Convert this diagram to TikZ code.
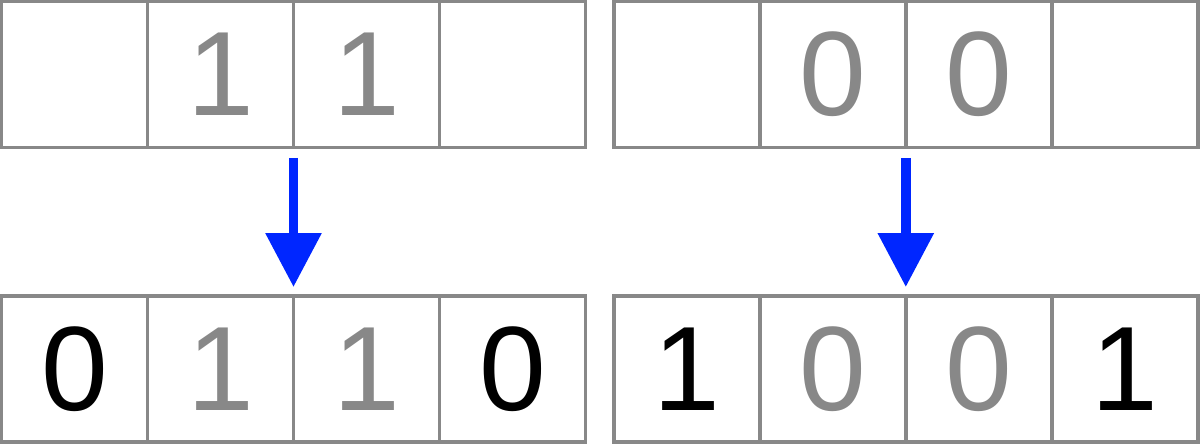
\documentclass[tikz,border=0pt]{standalone}
\usepackage{fontspec}
\setmainfont{Liberation Sans}
\usepackage{xcolor}
\usetikzlibrary{positioning}
\usetikzlibrary{arrows.meta}

\definecolor{cellgray}{HTML}{888888}
\definecolor{flowblue}{HTML}{0026FF}

\tikzset{
  cell/.style={draw=cellgray, line width=1.75pt, rectangle, minimum width=73pt,
    minimum height=73pt, inner sep=0pt, outer sep=0pt, text=cellgray,
    font=\fontsize{60}{72}\selectfont},
  bit/.style={cell, text=black},
  flow/.style={draw=flowblue, line width=4.75pt,
    -{Triangle[width=27pt,length=27pt]}, shorten <=5.25pt, shorten >=4.5pt}
}

\begin{document}
\begin{tikzpicture}

		\useasboundingbox (0pt,0pt) rectangle (600pt,-222pt);

		\node[cell](a1) at (37.25pt,-37.25pt){};
		\node[cell, right=0pt of a1](a2){1};
		\node[cell, right=0pt of a2](a3){1};
		\node[cell, right=0pt of a3](a4){};

		\node[cell, right=14.15pt of a4](b1){};
		\node[cell, right=0pt of b1](b2){0};
		\node[cell, right=0pt of b2](b3){0};
		\node[cell, right=0pt of b3](b4){};

		\node[bit, below=74.25pt of a1](c1){0};
		\node[cell, right=0pt of c1](c2){1};
		\node[cell, right=0pt of c2](c3){1};
		\node[bit, right=0pt of c3](c4){0};

		\node[bit, below=74.25pt of b1](d1){1};
		\node[cell, right=0pt of d1](d2){0};
		\node[cell, right=0pt of d2](d3){0};
		\node[bit, right=0pt of d3](d4){1};

		\draw[flow] (a2.south east) -- (c2.north east);
		\draw[flow] (b2.south east) -- (d2.north east);

	\end{tikzpicture}
\end{document}
